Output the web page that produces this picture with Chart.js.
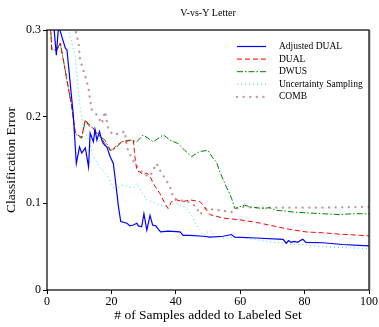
<!DOCTYPE html>
<html>
<head>
<meta charset="utf-8">
<script src="https://cdn.jsdelivr.net/npm/chart.js@4"></script>
<style>
  html, body { margin: 0; padding: 0; background: #fff; }
  #wrap { width: 379px; height: 327px; }
</style>
</head>
<body>
<div id="wrap"><canvas id="chart" width="379" height="327"></canvas></div>
<script>
const chartTitle = "V-vs-Y Letter";
const xTitle = "# of Samples added to Labeled Set";
const yTitle = "Classification Error";
const seriesNames = ["Adjusted DUAL", "DUAL", "DWUS", "Uncertainty Sampling", "COMB"];

// Adjusted DUAL
const adjX = [1, 2, 2.9, 3.6, 4.8, 5.7, 6.2, 7.2, 8.2, 9.1, 10.1, 10.8, 11.9, 12.9, 13.4, 14.4, 14.9, 15.5, 16.3, 17, 17.5, 18.6, 19.6, 20.6, 21.1, 22.2, 22.9, 24.8, 25.8, 26.8, 27.9, 28.4, 29.4, 30.1, 31, 32, 32.8, 33.8, 34.6, 35.3, 37.6, 41.3, 42.3, 44.4, 48.5, 50.6, 54.7, 57.3, 58.3, 65, 73.3, 74.3, 75, 75.8, 76.8, 77.8, 79.4, 80.5, 85.6, 91.8, 100];
const adjY = [0.33, 0.31, 0.271, 0.305, 0.29, 0.279, 0.277, 0.239, 0.2, 0.146, 0.165, 0.158, 0.164, 0.142, 0.181, 0.171, 0.185, 0.173, 0.183, 0.173, 0.169, 0.165, 0.154, 0.146, 0.131, 0.096, 0.079, 0.077, 0.074, 0.075, 0.077, 0.074, 0.073, 0.088, 0.069, 0.086, 0.075, 0.074, 0.070, 0.067, 0.068, 0.067, 0.063, 0.063, 0.062, 0.061, 0.062, 0.064, 0.061, 0.060, 0.0585, 0.054, 0.057, 0.055, 0.056, 0.055, 0.0585, 0.055, 0.0545, 0.0525, 0.051];

// DUAL
const dualX = [1, 1.5, 3.1, 4.1, 5.1, 6.2, 7.7, 8.8, 10.3, 10.8, 11.9, 12.9, 14.9, 16.5, 18, 19.1, 20.1, 21.1, 23.2, 26.8, 27.3, 27.9, 28.9, 29.9, 31, 32, 33, 35.1, 36.6, 37.6, 38.7, 40.2, 42.3, 44.4, 47.5, 48.5, 50.6, 54.7, 59.8, 65, 70.2, 75.3, 80.5, 85.6, 90.8, 100];
const dualY = [0.31, 0.277, 0.277, 0.285, 0.265, 0.242, 0.211, 0.181, 0.177, 0.177, 0.196, 0.190, 0.185, 0.177, 0.169, 0.165, 0.160, 0.165, 0.171, 0.173, 0.154, 0.138, 0.136, 0.133, 0.135, 0.131, 0.123, 0.111, 0.100, 0.094, 0.102, 0.104, 0.102, 0.104, 0.102, 0.098, 0.087, 0.083, 0.081, 0.078, 0.074, 0.070, 0.067, 0.066, 0.0645, 0.0625];

// DWUS
const dwusX = [1, 1.5, 3.1, 4.1, 5.1, 6.2, 7.7, 8.8, 10.8, 11.9, 12.9, 15.5, 16.5, 18, 19.6, 21.1, 23.2, 25.8, 27.9, 29.9, 31.4, 33, 36.1, 38.2, 40.7, 42.8, 44.9, 47.5, 50, 51.6, 52.6, 53.7, 55.7, 57.3, 58.3, 59.8, 61.4, 62.9, 65, 67, 69.1, 71.2, 74.3, 76.3, 80.5, 85.6, 90.8, 94.9, 100];
const dwusY = [0.31, 0.277, 0.277, 0.285, 0.265, 0.242, 0.211, 0.180, 0.175, 0.196, 0.192, 0.181, 0.177, 0.173, 0.161, 0.163, 0.171, 0.173, 0.171, 0.179, 0.175, 0.171, 0.179, 0.173, 0.169, 0.161, 0.154, 0.160, 0.161, 0.152, 0.148, 0.136, 0.119, 0.106, 0.094, 0.096, 0.098, 0.096, 0.095, 0.094, 0.095, 0.092, 0.091, 0.090, 0.089, 0.088, 0.087, 0.088, 0.088];

// Uncertainty Sampling
const uncX = [6, 6.7, 8.8, 9.5, 10.3, 11.3, 12.9, 14.4, 16.5, 18.6, 21.1, 23.2, 26.8, 27.9, 29.9, 31, 34, 36.6, 40.2, 43.3, 44.9, 46.9, 48.5, 50.6, 52.6, 54.7, 59.8, 65, 70.2, 75.3, 80.5, 85.6, 90.8, 100];
const uncY = [0.32, 0.3, 0.269, 0.238, 0.211, 0.188, 0.173, 0.154, 0.141, 0.133, 0.115, 0.121, 0.118, 0.123, 0.110, 0.104, 0.100, 0.096, 0.100, 0.094, 0.086, 0.072, 0.063, 0.069, 0.060, 0.060, 0.061, 0.058, 0.055, 0.053, 0.052, 0.050, 0.049, 0.048];

// COMB
const combX = [8, 8.8, 9.8, 10.3, 11.3, 12.9, 13.4, 13.9, 15.5, 17, 18, 19.1, 20.6, 22.7, 24.2, 24.8, 26.3, 28.4, 30.4, 32, 32.5, 34, 35.1, 37.6, 38.7, 39.2, 40.7, 43.8, 46.4, 47.5, 49, 53.7, 57.3, 59.8, 65, 75, 85, 100];
const combY = [0.32, 0.3, 0.285, 0.265, 0.254, 0.233, 0.219, 0.208, 0.202, 0.192, 0.206, 0.185, 0.179, 0.181, 0.183, 0.165, 0.152, 0.14, 0.133, 0.131, 0.135, 0.146, 0.138, 0.123, 0.115, 0.106, 0.104, 0.102, 0.096, 0.087, 0.094, 0.092, 0.090, 0.096, 0.095, 0.095, 0.095, 0.096];

const xTicks = [0, 20, 40, 60, 80, 100];
const yTicks = [0, 0.1, 0.2, 0.3];

const serif = "'Liberation Serif', 'DejaVu Serif', serif";

function pts(xs, ys) {
  return xs.map((x, i) => ({ x, y: ys[i] }));
}

const styles = [
  { color: "#0000ff", dash: [], width: 1.2, cap: "butt" },
  { color: "#ff0000", dash: [5, 3], width: 1, cap: "butt" },
  { color: "#008000", dash: [6, 2, 1.5, 2], width: 1, cap: "butt" },
  { color: "#33dddd", dash: [1, 3], width: 1, cap: "butt" },
  { color: "#c09898", dash: [0.1, 6.5], width: 2.3, cap: "round" }
];
const allData = [pts(adjX, adjY), pts(dualX, dualY), pts(dwusX, dwusY), pts(uncX, uncY), pts(combX, combY)];

const datasets = allData.map((d, i) => ({
  label: seriesNames[i],
  data: d,
  borderColor: styles[i].color,
  borderWidth: styles[i].width,
  borderDash: styles[i].dash,
  borderCapStyle: styles[i].cap,
  pointRadius: 0,
  tension: 0,
  fill: false,
  order: i
}));

// frame, title and legend
const decor = {
  id: "decor",
  afterDatasetsDraw(chart) {
    const { ctx, chartArea: a } = chart;
    ctx.save();
    ctx.strokeStyle = "#000";
    ctx.lineWidth = 1.2;
    ctx.setLineDash([]);
    ctx.strokeRect(a.left, a.top, a.right - a.left, a.bottom - a.top);
    ctx.strokeStyle = "#555";
    ctx.lineWidth = 1.5;
    ctx.beginPath();
    ctx.moveTo(a.right + 0.5, a.top);
    ctx.lineTo(a.right + 0.5, a.bottom);
    ctx.stroke();

    ctx.fillStyle = "#000";
    ctx.font = "10px " + serif;
    ctx.textAlign = "center";
    ctx.textBaseline = "middle";
    ctx.fillText(chartTitle, (a.left + a.right) / 2, 13);

    ctx.font = "9.5px " + serif;
    ctx.textAlign = "left";
    seriesNames.forEach((name, i) => {
      const y = 46.5 + i * 12.6;
      const s = styles[i];
      ctx.strokeStyle = s.color;
      ctx.lineWidth = s.width;
      ctx.lineCap = s.cap;
      ctx.setLineDash(s.dash);
      ctx.beginPath();
      ctx.moveTo(237, y);
      ctx.lineTo(266, y);
      ctx.stroke();
      ctx.fillStyle = "#000";
      ctx.fillText(name, 279, y);
    });
    ctx.restore();
  }
};

new Chart(document.getElementById("chart"), {
  type: "line",
  data: { datasets },
  options: {
    responsive: false,
    animation: false,
    layout: { padding: { left: 0, top: 30, right: 9, bottom: 0 } },
    plugins: {
      legend: { display: false },
      tooltip: { enabled: false }
    },
    scales: {
      x: {
        type: "linear",
        min: 0,
        max: 100,
        afterBuildTicks: s => { s.ticks = xTicks.map(v => ({ value: v })); },
        afterFit: s => { s.height = 37; },
        grid: { display: true, drawOnChartArea: false, tickLength: 4, color: "#000" },
        border: { display: false },
        ticks: { color: "#000", font: { family: serif, size: 12 }, padding: 1, maxRotation: 0 },
        title: { display: true, text: xTitle, color: "#000", font: { family: serif, size: 13.5 }, padding: { top: 3, bottom: 3 } }
      },
      y: {
        min: 0,
        max: 0.3,
        afterBuildTicks: s => { s.ticks = yTicks.map(v => ({ value: v })); },
        afterFit: s => { s.width = 47; },
        grid: { display: true, drawOnChartArea: false, tickLength: 4, color: "#000" },
        border: { display: false },
        ticks: {
          color: "#000",
          font: { family: serif, size: 12 },
          padding: 2,
          callback: v => v === 0 ? "0" : v.toFixed(1)
        },
        title: { display: true, text: yTitle, color: "#000", font: { family: serif, size: 13.5 }, padding: { top: 3, bottom: 2 } }
      }
    }
  },
  plugins: [decor]
});
</script>
</body>
</html>
